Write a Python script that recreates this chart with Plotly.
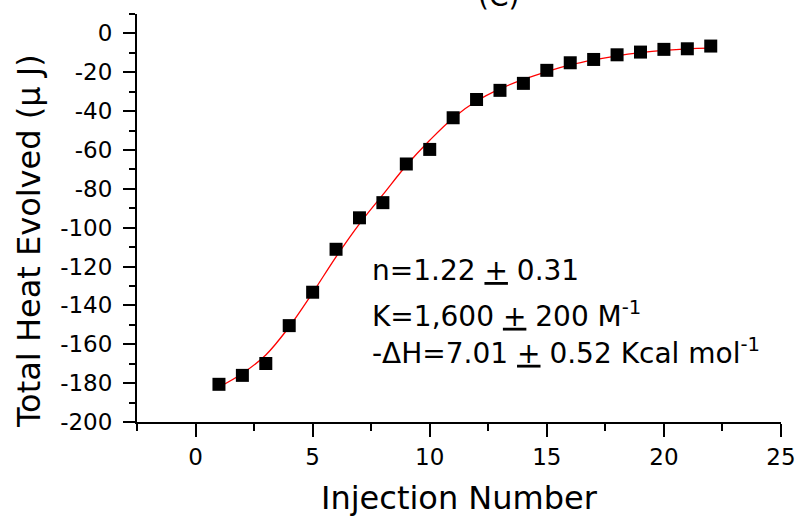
import plotly.graph_objects as go

# Measured cumulative heat per injection
injection = list(range(1, 23))
total_heat = [-180.6, -176.0, -169.9, -150.4, -133.2, -111.1, -94.9, -87.1,
              -67.2, -59.7, -43.4, -34.0, -29.3, -25.7, -19.0, -15.1,
              -13.4, -11.0, -9.6, -8.2, -7.9, -6.5]

# Fitted binding curve
fit_x = list(range(1, 23))
fit_y = [-182.0, -175.0, -165.5, -151.0, -133.5, -115.0, -98.0, -83.0,
         -68.0, -55.0, -43.5, -34.8, -28.5, -23.7, -19.6, -16.2,
         -13.6, -11.5, -9.9, -8.7, -7.9, -7.6]

# Axis ticks
y_ticks = [0, -20, -40, -60, -80, -100, -120, -140, -160, -180, -200]
y_tick_labels = ["0", "-20", "-40", "-60", "-80", "-100", "-120", "-140", "-160", "-180", "-200"]
x_ticks = [0, 5, 10, 15, 20, 25]
x_tick_labels = ["0", "5", "10", "15", "20", "25"]

fit_lines = [
    "n=1.22 <u>+</u> 0.31",
    "K=1,600 <u>+</u> 200 M<sup>-1</sup>",
    "-\u0394H=7.01 <u>+</u> 0.52 Kcal mol<sup>-1</sup>",
]
fit_line_y = [-122, -144.5, -163.5]

FONT = "DejaVu Sans, Verdana, sans-serif"

fig = go.Figure()
fig.add_trace(go.Scatter(
    x=fit_x, y=fit_y, mode="lines", line=dict(color="#ff0000", width=1.3, shape="spline"),
    showlegend=False, hoverinfo="skip",
))
fig.add_trace(go.Scatter(
    x=injection, y=total_heat, mode="markers",
    marker=dict(symbol="square", size=13, color="black"),
    showlegend=False,
))

for txt, yv in zip(fit_lines, fit_line_y):
    fig.add_annotation(x=7.44, y=yv, xref="x", yref="y", text=txt, showarrow=False,
                       xanchor="left", yanchor="middle", align="left",
                       font=dict(family=FONT, size=28, color="black"))

# Axis titles and panel label, positioned in page pixels (converted below)
page_labels = [
    dict(x=29, y=241, text="Total Heat Evolved (\u03bc J)", textangle=-90, size=32),
    dict(x=459, y=498, text="Injection Number", textangle=0, size=32),
    dict(x=498, y=-3, text="(C)", textangle=0, size=28),
]

L, R, T, B = 137, 18, 14, 97
pw, ph = 799 - L - R, 519 - T - B
for lab in page_labels:
    fig.add_annotation(
        x=(lab["x"] - L) / pw, y=1 - (lab["y"] - T) / ph, xref="paper", yref="paper",
        xanchor="center", yanchor="middle", text=lab["text"], textangle=lab["textangle"],
        showarrow=False, font=dict(family=FONT, size=lab["size"], color="black"),
    )

axis_common = dict(
    showgrid=False, zeroline=False, showline=True, linecolor="black", linewidth=2,
    ticks="outside", tickcolor="black", tickwidth=2, automargin=False,
    tickfont=dict(family=FONT, size=23, color="black"),
)

fig.update_xaxes(
    range=[-2.5, 25], tickmode="array", tickvals=x_ticks, ticktext=x_tick_labels,
    ticklen=13, ticklabelstandoff=0,
    minor=dict(dtick=2.5, tick0=0, ticks="outside", ticklen=7, tickwidth=2, tickcolor="black", showgrid=False),
    **axis_common,
)
fig.update_yaxes(
    range=[-200, 10], tickmode="array", tickvals=y_ticks, ticktext=y_tick_labels,
    ticklen=12, ticklabelstandoff=6,
    minor=dict(dtick=10, tick0=0, ticks="outside", ticklen=6, tickwidth=2, tickcolor="black", showgrid=False),
    **axis_common,
)

fig.update_layout(
    width=799, height=519,
    margin=dict(l=L, r=R, t=T, b=B, autoexpand=False),
    plot_bgcolor="white", paper_bgcolor="white",
)

fig.write_html("out.html")
